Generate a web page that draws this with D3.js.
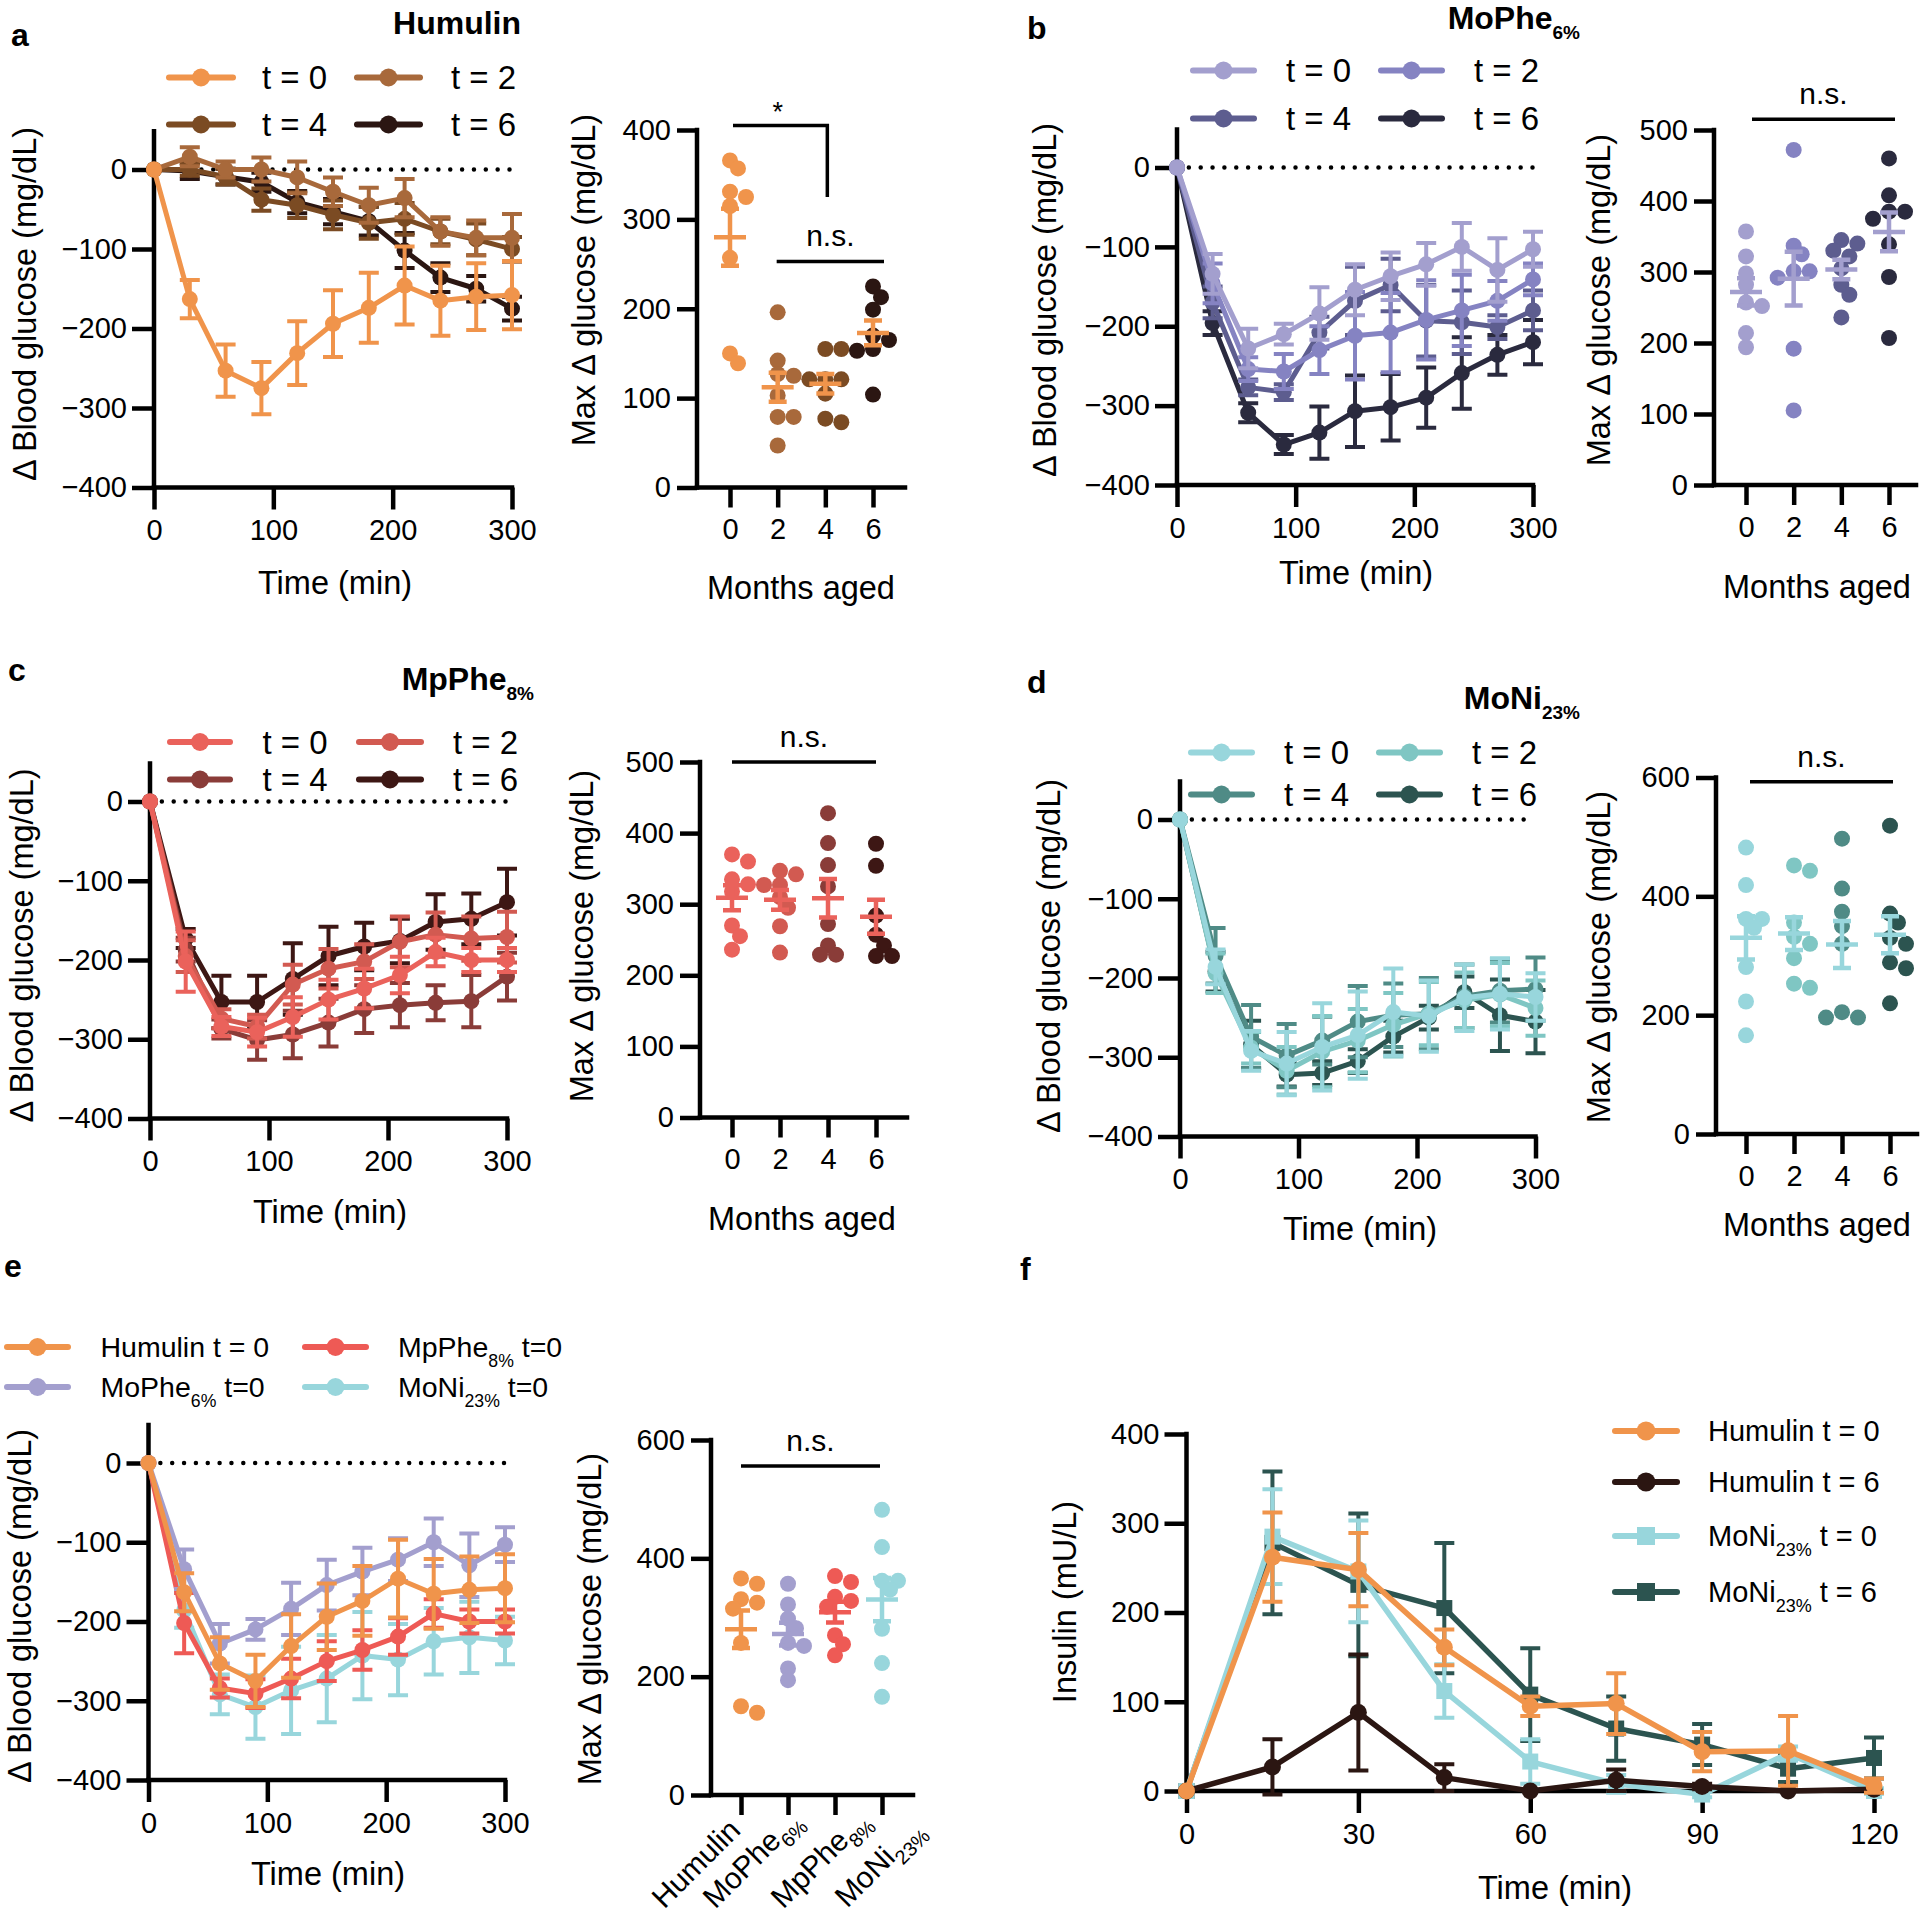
<!DOCTYPE html>
<html><head><meta charset="utf-8">
<script src="https://cdn.jsdelivr.net/npm/d3@7"></script>
<style>body{margin:0;background:#fff} text{font-family:'Liberation Sans',Arial,Helvetica,sans-serif}</style>
</head><body><script>
// ---------------- DATA ----------------
const TIME = [0,30,60,90,120,150,180,210,240,270,300];
const T_LABELS = ['t = 0','t = 2','t = 4','t = 6'];
const MONTHS = ['0','2','4','6'];
const LINE_YTICKS = [0,-100,-200,-300,-400];
const LINE_XTICKS = [0,100,200,300];

// Panel a – Humulin (mean Δ glucose, SEM)
const HUM_T0 = [0,-163,-253,-275,-231,-194,-174,-146,-165,-160,-158];
const HUM_T0_SEM = [0,24,33,33,40,42,44,49,44,42,43];
const HUM_T2 = [0,16,0,0,-10,-28,-45,-36,-78,-86,-86];
const HUM_T2_SEM = [0,12,10,15,20,18,22,24,18,22,30];
const HUM_T4 = [0,0,-9,-38,-45,-57,-67,-62,-78,-88,-100];
const HUM_T4_SEM = [0,8,10,14,16,18,20,20,16,20,15];
const HUM_T6 = [0,-2,-9,-16,-41,-53,-65,-102,-136,-150,-175];
const HUM_T6_SEM = [0,10,10,12,14,16,18,22,18,16,15];
// Panel b – MoPhe6%
const MOPHE_T0 = [0,-134,-228,-210,-184,-154,-137,-122,-100,-129,-103];
const MOPHE_T0_SEM = [0,25,25,13,33,32,30,27,30,40,22];
const MOPHE_T2 = [0,-146,-254,-257,-230,-212,-208,-192,-180,-168,-141];
const MOPHE_T2_SEM = [0,25,15,22,30,55,50,50,45,25,20];
const MOPHE_T4 = [0,-170,-277,-283,-208,-168,-148,-193,-195,-201,-180];
const MOPHE_T4_SEM = [0,20,10,10,20,43,33,45,40,15,25];
const MOPHE_T6 = [0,-196,-309,-349,-334,-307,-302,-290,-259,-236,-220];
const MOPHE_T6_SEM = [0,15,12,12,33,45,42,38,45,25,28];
// Panel c – MpPhe8%
const MPPHE_T0 = [0,-202,-284,-291,-272,-250,-236,-219,-190,-200,-200];
const MPPHE_T0_SEM = [0,38,12,18,25,25,25,23,18,15,15];
const MPPHE_T2 = [0,-195,-274,-284,-231,-211,-202,-177,-168,-173,-171];
const MPPHE_T2_SEM = [0,20,12,15,25,25,22,32,28,28,32];
const MPPHE_T4 = [0,-187,-287,-301,-294,-279,-262,-257,-254,-252,-221];
const MPPHE_T4_SEM = [0,15,12,25,30,30,30,28,22,33,30];
const MPPHE_T6 = [0,-173,-253,-253,-224,-195,-183,-176,-152,-148,-127];
const MPPHE_T6_SEM = [0,12,33,33,45,37,30,28,35,32,42];
// Panel d – MoNi23%
const MONI_T0 = [0,-186,-292,-308,-287,-272,-243,-248,-225,-220,-224];
const MONI_T0_SEM = [0,22,25,40,55,55,55,45,42,45,30];
const MONI_T2 = [0,-194,-288,-317,-293,-279,-259,-245,-228,-221,-238];
const MONI_T2_SEM = [0,25,20,30,45,40,40,40,35,40,35];
const MONI_T4 = [0,-172,-274,-298,-279,-255,-247,-245,-223,-216,-214];
const MONI_T4_SEM = [0,35,40,40,30,45,40,45,40,40,40];
const MONI_T6 = [0,-192,-284,-322,-320,-305,-274,-250,-218,-247,-255];
const MONI_T6_SEM = [0,25,30,15,15,15,20,15,20,45,40];

// Max Δ glucose per animal (mg/dL)
const HUM_MAX_0 = [366,357,331,325,315,257,150,139];
const HUM_MAX_2 = [196,142,127,125,103,79,79,47];
const HUM_MAX_4 = [155,155,121,121,121,105,77,73];
const HUM_MAX_6 = [225,213,199,170,165,155,153,104];
const MOPHE_MAX_0 = [357,322,298,282,257,252,214,194];
const MOPHE_MAX_2 = [472,337,325,301,301,292,192,105];
const MOPHE_MAX_4 = [345,340,330,322,305,282,268,236];
const MOPHE_MAX_6 = [460,408,385,385,375,339,293,207];
const MPPHE_MAX_0 = [370,360,335,328,318,270,255,236];
const MPPHE_MAX_2 = [347,342,327,327,310,295,269,232];
const MPPHE_MAX_4 = [428,386,355,325,272,242,229,229];
const MPPHE_MAX_6 = [385,354,284,257,242,227,227];
const MONI_MAX_0 = [482,419,362,362,347,281,223,166];
const MONI_MAX_2 = [452,443,356,332,320,296,253,246];
const MONI_MAX_4 = [497,413,374,350,320,205,196,196];
const MONI_MAX_6 = [519,371,356,330,320,289,279,220];

// Panel e categories
const E_CATS = ['Humulin','MoPhe','MpPhe','MoNi'];
const E_SUBS = ['','6%','8%','23%'];

// Panel f – insulin (mU/L)
const INS_TIME = [0,15,30,45,60,75,90,105,120];
const INS_HUM_T0 = [0,262,248,161,95,98,44,45,6];
const INS_HUM_T0_SEM = [0,50,41,20,11,34,22,39,8];
const INS_HUM_T6 = [0,27,88,15,0,12,5,0,2];
const INS_HUM_T6_SEM = [0,31,65,15,0,12,3,0,0];
const INS_MONI_T0 = [0,285,246,112,33,8,-4,42,0];
const INS_MONI_T0_SEM = [0,53,57,30,25,10,3,8,3];
const INS_MONI_T6 = [0,278,231,205,108,70,52,25,37];
const INS_MONI_T6_SEM = [0,80,80,73,52,36,23,15,23];

// ---------------- COLOURS ----------------
const C_HUM = ['#F0944B','#A8693B','#7B4B23','#2B1612'];
const C_MOPHE = ['#A39FCE','#8583C2','#5D5D8F','#2A2A3E'];
const C_MPPHE = ['#EA625B','#D25A51','#8A3C38','#3D1714'];
const C_MONI = ['#98D6DC','#7FC6C3','#4F8B86','#2C5450'];
const C_E = ['#F0944B','#A39FCE','#EE5A55','#98D6DC'];

// ---------------- DRAWING ----------------
const svg = d3.select('body').append('svg').attr('width',1920).attr('height',1918).style('display','block');
svg.append('rect').attr('width',1920).attr('height',1918).attr('fill','#fff');
const AXW = 4.5, TICK = 22, TICKF = 29;
const fmt = d3.format('d'); // uses the typographic minus sign

function styleAxis(g){
  g.selectAll('path.domain').remove();
  g.selectAll('.tick line').attr('stroke','#000').attr('stroke-width',AXW);
  g.selectAll('.tick text').attr('font-size',TICKF).attr('fill','#000')
    .attr('font-family',"'Liberation Sans',Arial,sans-serif");
}
function rich(g,x,y,parts,o){
  const t = g.append('text').attr('x',x).attr('y',y).attr('font-size',o.size)
    .attr('text-anchor',o.anchor||'start').attr('font-weight',o.weight||'normal').attr('fill','#000');
  let sh=false;
  parts.forEach(p=>{
    const ts=t.append('tspan').text(p.t);
    if(p.sub){ts.attr('font-size',o.subSize).attr('dy',o.subDy);sh=true;}
    else if(sh){ts.attr('dy',-o.subDy);sh=false;}
  });
  return t;
}
function vTitle(g,cx,cy,txt,size){
  g.append('text').attr('transform',`translate(${cx},${cy}) rotate(-90)`).attr('text-anchor','middle')
   .attr('dy','0.35em').attr('font-size',size||32.5).attr('fill','#000').text(txt);
}
function hTitle(g,cx,by,txt,size){
  g.append('text').attr('x',cx).attr('y',by).attr('text-anchor','middle').attr('font-size',size||32.5).attr('fill','#000').text(txt);
}
function panelLabel(x,y,l){
  svg.append('text').attr('x',x).attr('y',y).attr('font-size',32).attr('font-weight','bold').attr('fill','#000').text(l);
}
function axLine(g,x1,y1,x2,y2){
  g.append('line').attr('x1',x1).attr('y1',y1).attr('x2',x2).attr('y2',y2)
   .attr('stroke','#000').attr('stroke-width',AXW).attr('stroke-linecap','square');
}
function errBars(g,xs,ys,means,sems,color,cap,w){
  means.forEach((m,j)=>{
    const e=sems[j]; if(!e) return;
    const xx=xs(j), yt=ys(m+e), yb=ys(m-e);
    g.append('path').attr('d',`M${xx},${yt}V${yb}M${xx-cap},${yt}H${xx+cap}M${xx-cap},${yb}H${xx+cap}`)
     .attr('stroke',color).attr('stroke-width',w).attr('fill','none');
  });
}

function linePanel(c){
  const g=svg.append('g');
  const x=d3.scaleLinear().domain([0,300]).range([c.x0,c.x1]);
  const y=d3.scaleLinear().domain([-400,0]).range([c.yB,c.yT]);
  g.append('line').attr('x1',x(0)).attr('x2',x(300)).attr('y1',y(0)).attr('y2',y(0))
   .attr('stroke','#000').attr('stroke-width',4.5).attr('stroke-dasharray','0 11.85').attr('stroke-linecap','round');
  g.append('g').attr('transform',`translate(${c.x0},0)`)
   .call(d3.axisLeft(y).tickValues(LINE_YTICKS).tickSize(TICK).tickPadding(5).tickFormat(fmt)).call(styleAxis);
  g.append('g').attr('transform',`translate(0,${c.yB})`)
   .call(d3.axisBottom(x).tickValues(LINE_XTICKS).tickSize(TICK).tickPadding(10).tickFormat(fmt)).call(styleAxis);
  axLine(g,c.x0,y(48),c.x0,c.yB);
  axLine(g,c.x0,c.yB,c.x1,c.yB);
  for(let i=c.series.length-1;i>=0;i--){
    const s=c.series[i], sg=g.append('g');
    errBars(sg,j=>x(TIME[j]),y,s.m,s.e,s.color,10,4);
    sg.append('path').datum(s.m).attr('d',d3.line().x((d,j)=>x(TIME[j])).y(d=>y(d)))
      .attr('fill','none').attr('stroke',s.color).attr('stroke-width',5).attr('stroke-linejoin','round');
    sg.selectAll('circle').data(s.m).join('circle').attr('cx',(d,j)=>x(TIME[j])).attr('cy',d=>y(d)).attr('r',8).attr('fill',s.color);
  }
  c.legend.items.forEach((it,k)=>{
    const L=c.legend, row=Math.floor(k/2), col=k%2;
    const ly=L.rows[row], lx1=L.lines[col][0], lx2=L.lines[col][1];
    g.append('line').attr('x1',lx1).attr('x2',lx2).attr('y1',ly).attr('y2',ly).attr('stroke',it.color).attr('stroke-width',6).attr('stroke-linecap','round');
    g.append('circle').attr('cx',(lx1+lx2)/2).attr('cy',ly).attr('r',9).attr('fill',it.color);
    rich(g,L.text[col],ly+L.size*0.35,it.parts,{size:L.size,subSize:L.size*0.62,subDy:10});
  });
  vTitle(g,c.yt[0],c.yt[1],'\u0394 Blood glucose (mg/dL)');
  hTitle(g,c.xt[0],c.xt[1],'Time (min)');
}

function swarm(vals,y,minD,step){
  const placed=[];
  vals.map((v,i)=>({v,i})).sort((a,b)=>b.v-a.v).forEach(p=>{
    const py=y(p.v); const cand=[0];
    for(let j=1;j<8;j++){cand.push(j*step,-j*step);}
    let dx=0;
    for(const cc of cand){ if(placed.every(q=>Math.hypot(q.dx-cc,q.y-py)>=minD)){dx=cc;break;} }
    placed.push({y:py,dx,v:p.v});
  });
  return placed;
}

function scatterPanel(c){
  const g=svg.append('g');
  const x=d3.scalePoint().domain(c.cats).range([c.c0,c.c1]);
  const y=d3.scaleLinear().domain([0,c.max]).range([c.yB,c.yT]);
  g.append('g').attr('transform',`translate(${c.ax},0)`)
   .call(d3.axisLeft(y).tickValues(c.yticks).tickSize(20).tickPadding(6).tickFormat(fmt)).call(styleAxis);
  g.append('g').attr('transform',`translate(0,${c.yB})`)
   .call(d3.axisBottom(x).tickSize(20).tickPadding(11).tickFormat(c.rot?()=>'':d=>d)).call(styleAxis);
  axLine(g,c.ax,y(c.max),c.ax,c.yB);
  axLine(g,c.ax,c.yB,c.xEnd,c.yB);
  c.groups.forEach((vals,i)=>{
    const cx=x(c.cats[i]);
    swarm(vals,y,11,8).forEach(p=>{
      g.append('circle').attr('cx',cx+p.dx).attr('cy',p.y).attr('r',8).attr('fill',c.colors[i]);
    });
  });
  c.groups.forEach((vals,i)=>{
    const cx=x(c.cats[i]); const m=d3.mean(vals); const se=d3.deviation(vals)/Math.sqrt(vals.length);
    const col=c.meanColors[i];
    g.append('path').attr('d',`M${cx-16},${y(m)}H${cx+16}M${cx},${y(m+se)}V${y(m-se)}M${cx-9},${y(m+se)}H${cx+9}M${cx-9},${y(m-se)}H${cx+9}`)
     .attr('stroke',col).attr('stroke-width',4.5).attr('fill','none');
  });
  c.sig.forEach(s=>{
    const yy=y(s.v);
    if(s.type==='ns'){
      const xa=x(s.from)+s.dx0, xb=x(s.to)+s.dx1;
      g.append('line').attr('x1',xa).attr('x2',xb).attr('y1',yy).attr('y2',yy).attr('stroke','#000').attr('stroke-width',3.5);
      g.append('text').attr('x',(xa+xb)/2).attr('y',yy-15).attr('text-anchor','middle').attr('font-size',30).attr('fill','#000').text('n.s.');
    } else {
      const xa=x(s.from)+3, xb=x(s.to)+2;
      g.append('path').attr('d',`M${xa},${yy}H${xb}V${y(s.v2)}`).attr('fill','none').attr('stroke','#000').attr('stroke-width',3.5);
      g.append('text').attr('x',x(s.mid)).attr('y',yy-5).attr('text-anchor','middle').attr('font-size',27).attr('fill','#000').text('*');
    }
  });
  if(c.rot){
    c.cats.forEach((k,i)=>{
      const parts=[{t:k}]; if(c.subs[i]) parts.push({t:c.subs[i],sub:true});
      const t=rich(g,0,0,parts,{size:30,anchor:'end',subSize:20,subDy:9});
      t.attr('transform',`translate(${x(k)+c.labOff[i][0]},${c.yB+c.labOff[i][1]}) rotate(-45)`);
    });
  } else {
    hTitle(g,c.xt[0],c.xt[1],'Months aged');
  }
  vTitle(g,c.yt[0],c.yt[1],'Max \u0394 glucose (mg/dL)');
}

// ---- panel a
panelLabel(11,46,'a');
rich(svg,521,34,[{t:'Humulin'}],{size:32,anchor:'end',weight:'bold'});
const legT = (cols)=>T_LABELS.map((t,i)=>({parts:[{t}],color:cols[i]}));
linePanel({x0:154,x1:512,yT:169.5,yB:487.5,
  series:[{m:HUM_T0,e:HUM_T0_SEM,color:C_HUM[0]},{m:HUM_T2,e:HUM_T2_SEM,color:C_HUM[1]},{m:HUM_T4,e:HUM_T4_SEM,color:C_HUM[2]},{m:HUM_T6,e:HUM_T6_SEM,color:C_HUM[3]}],
  legend:{rows:[77.5,124.5],lines:[[169,233],[357,420]],text:[262,451],size:33,items:legT(C_HUM)},
  yt:[25,304],xt:[335,594]});
scatterPanel({ax:697,c0:730,c1:873,xEnd:905,yB:487.5,yT:130,max:400,yticks:[0,100,200,300,400],cats:MONTHS,
  groups:[HUM_MAX_0,HUM_MAX_2,HUM_MAX_4,HUM_MAX_6],colors:C_HUM,meanColors:[C_HUM[0],C_HUM[0],C_HUM[0],C_HUM[0]],
  sig:[{type:'star',v:405,v2:325,from:'0',to:'4',mid:'2'},{type:'ns',v:253,from:'2',to:'6',dx0:-1,dx1:11}],
  yt:[584,280],xt:[801,599]});

// ---- panel b
panelLabel(1027,39,'b');
rich(svg,1580,29,[{t:'MoPhe'},{t:'6%',sub:true}],{size:32,anchor:'end',weight:'bold',subSize:19,subDy:10});
linePanel({x0:1177,x1:1533,yT:167.5,yB:485,
  series:[{m:MOPHE_T0,e:MOPHE_T0_SEM,color:C_MOPHE[0]},{m:MOPHE_T2,e:MOPHE_T2_SEM,color:C_MOPHE[1]},{m:MOPHE_T4,e:MOPHE_T4_SEM,color:C_MOPHE[2]},{m:MOPHE_T6,e:MOPHE_T6_SEM,color:C_MOPHE[3]}],
  legend:{rows:[70.5,118.5],lines:[[1193,1254],[1381,1442]],text:[1286,1474],size:33,items:legT(C_MOPHE)},
  yt:[1045,300],xt:[1356,584]});
scatterPanel({ax:1714,c0:1746,c1:1889,xEnd:1916,yB:485,yT:130,max:500,yticks:[0,100,200,300,400,500],cats:MONTHS,
  groups:[MOPHE_MAX_0,MOPHE_MAX_2,MOPHE_MAX_4,MOPHE_MAX_6],colors:C_MOPHE,meanColors:[C_MOPHE[0],C_MOPHE[0],C_MOPHE[0],C_MOPHE[0]],
  sig:[{type:'ns',v:515,from:'0',to:'6',dx0:6,dx1:6}],
  yt:[1599,300],xt:[1817,598]});

// ---- panel c
panelLabel(8,681,'c');
rich(svg,534,690,[{t:'MpPhe'},{t:'8%',sub:true}],{size:32,anchor:'end',weight:'bold',subSize:19,subDy:10});
linePanel({x0:150,x1:507,yT:801.5,yB:1118.5,
  series:[{m:MPPHE_T0,e:MPPHE_T0_SEM,color:C_MPPHE[0]},{m:MPPHE_T2,e:MPPHE_T2_SEM,color:C_MPPHE[1]},{m:MPPHE_T4,e:MPPHE_T4_SEM,color:C_MPPHE[2]},{m:MPPHE_T6,e:MPPHE_T6_SEM,color:C_MPPHE[3]}],
  legend:{rows:[742,779.5],lines:[[170,230],[359,421]],text:[262.5,453],size:33,items:legT(C_MPPHE)},
  yt:[21.5,945.5],xt:[330,1223]});
scatterPanel({ax:700,c0:732,c1:876,xEnd:907,yB:1117.5,yT:762,max:500,yticks:[0,100,200,300,400,500],cats:MONTHS,
  groups:[MPPHE_MAX_0,MPPHE_MAX_2,MPPHE_MAX_4,MPPHE_MAX_6],colors:C_MPPHE,meanColors:[C_MPPHE[0],C_MPPHE[0],C_MPPHE[0],C_MPPHE[0]],
  sig:[{type:'ns',v:500,from:'0',to:'6',dx0:0,dx1:0}],
  yt:[582,936],xt:[802,1230]});

// ---- panel d
panelLabel(1027,693,'d');
rich(svg,1580,709,[{t:'MoNi'},{t:'23%',sub:true}],{size:32,anchor:'end',weight:'bold',subSize:19,subDy:10});
linePanel({x0:1180,x1:1535.5,yT:819.5,yB:1136.5,
  series:[{m:MONI_T0,e:MONI_T0_SEM,color:C_MONI[0]},{m:MONI_T2,e:MONI_T2_SEM,color:C_MONI[1]},{m:MONI_T4,e:MONI_T4_SEM,color:C_MONI[2]},{m:MONI_T6,e:MONI_T6_SEM,color:C_MONI[3]}],
  legend:{rows:[752.5,794.5],lines:[[1191,1252],[1379,1440]],text:[1284,1472],size:33,items:legT(C_MONI)},
  yt:[1048.5,956],xt:[1360,1240]});
scatterPanel({ax:1716,c0:1746,c1:1890,xEnd:1917,yB:1134,yT:777.5,max:600,yticks:[0,200,400,600],cats:MONTHS,
  groups:[MONI_MAX_0,MONI_MAX_2,MONI_MAX_4,MONI_MAX_6],colors:C_MONI,meanColors:[C_MONI[0],C_MONI[0],C_MONI[0],C_MONI[0]],
  sig:[{type:'ns',v:593,from:'0',to:'6',dx0:4,dx1:3}],
  yt:[1599,957],xt:[1817,1236]});

// ---- panel e
panelLabel(4,1277,'e');
linePanel({x0:148.5,x1:505,yT:1463,yB:1780,
  series:[{m:HUM_T0,e:HUM_T0_SEM,color:C_E[0]},{m:MOPHE_T0,e:MOPHE_T0_SEM,color:C_E[1]},{m:MPPHE_T0,e:MPPHE_T0_SEM,color:C_E[2]},{m:MONI_T0,e:MONI_T0_SEM,color:C_E[3]}],
  legend:{rows:[1347,1387],lines:[[7,68],[305,366]],text:[100.5,398],size:28.5,items:[
    {parts:[{t:'Humulin t = 0'}],color:C_E[0]},
    {parts:[{t:'MpPhe'},{t:'8%',sub:true},{t:' t=0'}],color:C_E[2]},
    {parts:[{t:'MoPhe'},{t:'6%',sub:true},{t:' t=0'}],color:C_E[1]},
    {parts:[{t:'MoNi'},{t:'23%',sub:true},{t:' t=0'}],color:C_E[3]}]},
  yt:[19.6,1606],xt:[328,1885]});
scatterPanel({ax:711,c0:741,c1:882,xEnd:913,yB:1795,yT:1440,max:600,yticks:[0,200,400,600],cats:E_CATS,subs:E_SUBS,rot:true,
  labOff:[[1,37],[15,27],[36,27],[43,36]],
  groups:[HUM_MAX_0,MOPHE_MAX_0,MPPHE_MAX_0,MONI_MAX_0],colors:C_E,meanColors:C_E,
  sig:[{type:'ns',v:556,from:'Humulin',to:'MoNi',dx0:0,dx1:-2}],
  yt:[590,1619]});

// ---- panel f
panelLabel(1020,1280,'f');
(function(){
  const g=svg.append('g');
  const x=d3.scaleLinear().domain([0,120]).range([1186.5,1874]);
  const y=d3.scaleLinear().domain([0,400]).range([1791,1434]);
  g.append('g').attr('transform','translate(1186.5,0)')
   .call(d3.axisLeft(y).tickValues([0,100,200,300,400]).tickSize(TICK).tickPadding(5).tickFormat(fmt)).call(styleAxis);
  g.append('g').attr('transform','translate(0,1791)')
   .call(d3.axisBottom(x).tickValues([0,30,60,90,120]).tickSize(TICK).tickPadding(10).tickFormat(fmt)).call(styleAxis);
  axLine(g,1186.5,y(400),1186.5,1791);
  axLine(g,1186.5,1791,1874,1791);
  const S=[
    {m:INS_HUM_T0,e:INS_HUM_T0_SEM,color:C_E[0],shape:'circle',parts:[{t:'Humulin t = 0'}]},
    {m:INS_HUM_T6,e:INS_HUM_T6_SEM,color:C_HUM[3],shape:'circle',parts:[{t:'Humulin t = 6'}]},
    {m:INS_MONI_T0,e:INS_MONI_T0_SEM,color:C_MONI[0],shape:'square',parts:[{t:'MoNi'},{t:'23%',sub:true},{t:' t = 0'}]},
    {m:INS_MONI_T6,e:INS_MONI_T6_SEM,color:C_MONI[3],shape:'square',parts:[{t:'MoNi'},{t:'23%',sub:true},{t:' t = 6'}]}];
  for(let i=S.length-1;i>=0;i--){
    const s=S[i], sg=g.append('g');
    errBars(sg,j=>x(INS_TIME[j]),y,s.m,s.e,s.color,10,4);
    sg.append('path').datum(s.m).attr('d',d3.line().x((d,j)=>x(INS_TIME[j])).y(d=>y(d)))
      .attr('fill','none').attr('stroke',s.color).attr('stroke-width',5.5).attr('stroke-linejoin','round');
    s.m.forEach((d,j)=>{
      if(s.shape==='circle') sg.append('circle').attr('cx',x(INS_TIME[j])).attr('cy',y(d)).attr('r',8.5).attr('fill',s.color);
      else sg.append('rect').attr('x',x(INS_TIME[j])-8).attr('y',y(d)-8).attr('width',16).attr('height',16).attr('fill',s.color);
    });
  }
  const rows=[1431,1482,1536,1592];
  S.forEach((s,k)=>{
    const ly=rows[k];
    g.append('line').attr('x1',1615).attr('x2',1677).attr('y1',ly).attr('y2',ly).attr('stroke',s.color).attr('stroke-width',6).attr('stroke-linecap','round');
    if(s.shape==='circle') g.append('circle').attr('cx',1646).attr('cy',ly).attr('r',9.5).attr('fill',s.color);
    else g.append('rect').attr('x',1637).attr('y',ly-9).attr('width',18).attr('height',18).attr('fill',s.color);
    rich(g,1708,ly+10,s.parts,{size:29,subSize:18,subDy:10});
  });
  vTitle(g,1065,1602,'Insulin (mU/L)');
  hTitle(g,1555,1899,'Time (min)');
})();
</script></body></html>
